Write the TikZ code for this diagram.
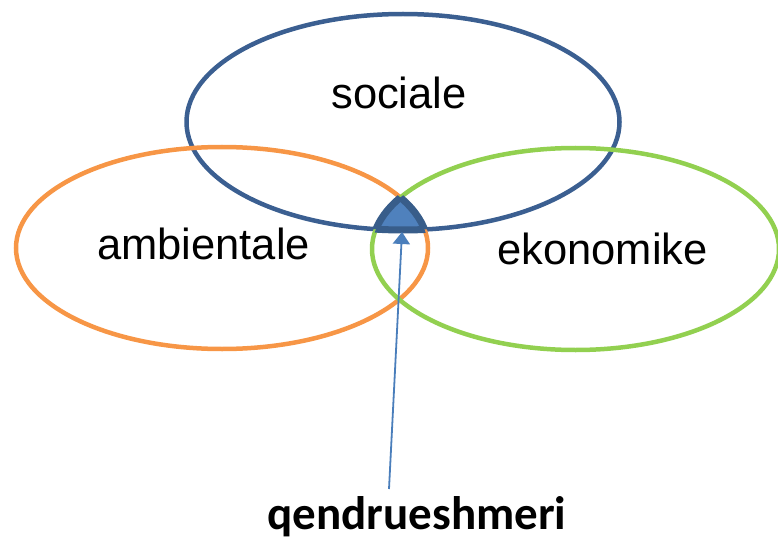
\documentclass[tikz,border=0pt]{standalone}
\usepackage{fontspec}
\setmainfont{Liberation Sans}
\newfontfamily\calfont{Carlito}
\usepackage{xcolor}
\usepackage{tikz}
\usetikzlibrary{arrows.meta}

\definecolor{socblue}{HTML}{3B5F91}
\definecolor{ambor}{HTML}{F79646}
\definecolor{ekogreen}{HTML}{92D050}
\definecolor{corefill}{HTML}{4F81BD}
\definecolor{coreline}{HTML}{385D8A}
\definecolor{arrowblue}{HTML}{4A7EBB}

\begin{document}
\begin{tikzpicture}[x=1pt,y=-1pt,
	ring/.style={line width=4.5pt},
	word/.style={font=\fontsize{43.5}{50}\selectfont, anchor=base, inner sep=0pt}]
			\useasboundingbox (0,0) rectangle (778,540);
			
			% three rings
			\draw[ring,socblue] (403,122) ellipse [x radius=216.5, y radius=108];
			\draw[ring,ambor] (222,248) ellipse [x radius=206, y radius=101];
			\draw[ring,ekogreen] (575.5,249) ellipse [x radius=203.5, y radius=101];
			
			\node[word] (soc) at (399,108.5) {sociale};
			\node[word] (amb) at (203.5,259) {ambientale};
			\node[word] (eko) at (602.5,264) {ekonomike};
			
			% common part of the three rings
			\begin{scope}
				\clip (222,248) ellipse [x radius=206, y radius=101];
				\clip (575.5,249) ellipse [x radius=203.5, y radius=101];
				\fill[corefill] (403,122) ellipse [x radius=216.5, y radius=108];
				\draw[coreline,line width=7pt] (403,122) ellipse [x radius=216.5, y radius=108];
			\end{scope}
			\begin{scope}
				\clip (403,122) ellipse [x radius=216.5, y radius=108];
				\clip (575.5,249) ellipse [x radius=203.5, y radius=101];
				\draw[coreline,line width=7pt] (222,248) ellipse [x radius=206, y radius=101];
			\end{scope}
			\begin{scope}
				\clip (403,122) ellipse [x radius=216.5, y radius=108];
				\clip (222,248) ellipse [x radius=206, y radius=101];
				\draw[coreline,line width=7pt] (575.5,249) ellipse [x radius=203.5, y radius=101];
			\end{scope}
			
			\node[anchor=base, inner sep=0pt, font=\calfont\bfseries\fontsize{47}{50}\selectfont] (sust) at (417,529) {qendrueshmeri};
			\coordinate (tail) at (389,489);
			\coordinate (core) at (402,232);
			\draw[arrowblue, line width=1.8pt, -{Triangle[length=12pt,width=17pt]}] (tail) -- (core);
		\end{tikzpicture}
\end{document}
